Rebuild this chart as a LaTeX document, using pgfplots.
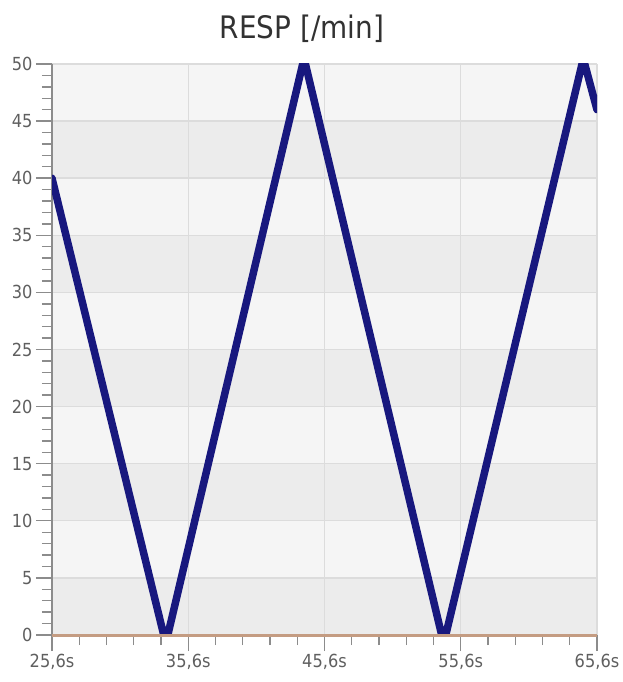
\documentclass[border=0pt]{standalone}
\usepackage{fontspec}
\setmainfont{DejaVu Sans}[FakeStretch=0.9]
\usepackage{pgfplots}
\pgfplotsset{compat=1.18}

\definecolor{resp}{RGB}{24,24,126}
\definecolor{zeroline}{RGB}{196,156,130}
\definecolor{bandlight}{RGB}{245,245,245}
\definecolor{banddark}{RGB}{236,236,236}
\definecolor{gridc}{RGB}{220,220,220}
\definecolor{axisc}{RGB}{140,140,140}
\definecolor{labelc}{RGB}{95,95,95}
\definecolor{titlec}{RGB}{50,50,50}

\begin{document}
\begin{tikzpicture}
\begin{axis}[
    name=resp,
    set layers=standard,
    scale only axis,
    width=545pt, height=571pt,
    xmin=25.6, xmax=65.6,
    ymin=0, ymax=50,
    axis x line=bottom, axis y line=left,
    axis line style={-},
    x axis line style={draw=zeroline, line width=3pt},
    y axis line style={draw=axisc, line width=1.6pt},
    xtick={25.6,35.6,45.6,55.6,65.6},
    xticklabels={{25,6s},{35,6s},{45,6s},{55,6s},{65,6s}},
    ytick={0,5,...,50},
    minor x tick num=4,
    minor y tick num=4,
    tick align=outside,
    major tick length=16pt,
    minor tick length=10pt,
    tick style={draw=axisc, line width=1.4pt},
    grid=major,
    major grid style={draw=gridc, line width=1.4pt},
    ticklabel style={font=\fontsize{18}{21}\selectfont, text=labelc},
    /pgf/number format/assume math mode=true,
]

\begin{pgfonlayer}{axis background}
\fill[bandlight] (axis cs:25.6,0) rectangle (axis cs:65.6,50);
\fill[banddark] (axis cs:25.6,0) rectangle (axis cs:65.6,5);
\fill[banddark] (axis cs:25.6,10) rectangle (axis cs:65.6,15);
\fill[banddark] (axis cs:25.6,20) rectangle (axis cs:65.6,25);
\fill[banddark] (axis cs:25.6,30) rectangle (axis cs:65.6,35);
\fill[banddark] (axis cs:25.6,40) rectangle (axis cs:65.6,45);
\end{pgfonlayer}

% RESP
\addplot[resp, line width=7.5pt, line join=round, line cap=round]
coordinates {
    (25.6,40) (33.8,0) (34.1,0) (44.0,50) (44.2,50)
    (54.2,0) (54.5,0) (64.5,50) (64.7,50) (65.6,46)
};

% zero line
\addplot[zeroline, line width=3pt]
coordinates { (25.6,0) (65.6,0) };

\end{axis}

\node[anchor=base, font=\fontsize{31}{36}\selectfont, text=titlec]
    at ([xshift=250pt,yshift=25pt]resp.north west) {RESP [/min]};

\pgfresetboundingbox
\path[use as bounding box] ([xshift=-52pt,yshift=-47pt]resp.south west)
    rectangle ([xshift=26pt,yshift=64pt]resp.north east);
\end{tikzpicture}
\end{document}
